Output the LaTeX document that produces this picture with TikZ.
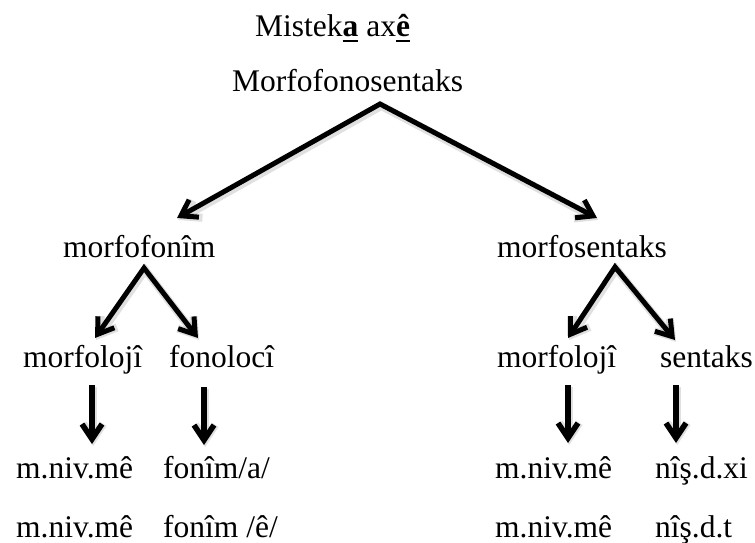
\documentclass[tikz,border=0pt]{standalone}
\usepackage{fontspec}
\setmainfont{Liberation Serif}
\usetikzlibrary{arrows.meta}
% bold letter with a heavy underline
\newcommand\ulbold[1]{\setbox0\hbox{\bfseries #1}\rlap{\rule[-5.5pt]{\wd0}{2.6pt}}\box0\relax}
\begin{document}
\begin{tikzpicture}[x=1pt,y=-1pt,
  lbl/.style={anchor=base west,inner sep=0pt,font=\fontsize{31.5}{36}\selectfont},
  tip/.tip={Straight Barb[length=15pt,width=20pt]},
  arr/.style={line width=5.5pt,line join=miter,-tip},
  fork/.style={line width=5pt,line join=miter,tip-tip},
  soft/.style={draw=black,opacity=0.12,line width=8pt,transform canvas={shift={(1.2pt,-2pt)}}}]
\useasboundingbox (0,0) rectangle (755,543);

% labels
\node[lbl] (title) at (255,37) {Mistek\ulbold{a} ax\ulbold{ê}};
\node[lbl] (root)  at (232,92) {Morfofonosentaks};
\node[lbl] (mfn)   at (63,257) {morfofonîm};
\node[lbl] (mfs)   at (497,257) {morfosentaks};
\node[lbl] (lmor)  at (23,367) {morfolojî};
\node[lbl] (lfon)  at (169,367) {fonolocî};
\node[lbl] (rmor)  at (497,367) {morfolojî};
\node[lbl] (rsen)  at (660,367) {sentaks};
\node[lbl] (la1)   at (16,478) {m.niv.mê};
\node[lbl] (lb1)   at (163,478) {fonîm/a/};
\node[lbl] (ra1)   at (495,478) {m.niv.mê};
\node[lbl] (rb1)   at (655,478) {nîş.d.xi};
\node[lbl] (la2)   at (16,537) {m.niv.mê};
\node[lbl] (lb2)   at (163,537) {fonîm /ê/};
\node[lbl] (ra2)   at (495,537) {m.niv.mê};
\node[lbl] (rb2)   at (655,537) {nîş.d.t};

% fork points and arrow ends
\coordinate (rootfork) at (380,104);
\coordinate (rootL) at (177,218);
\coordinate (rootR) at (597,218);
\coordinate (mfnfork) at (144,268);
\coordinate (mfnL) at (95,338);
\coordinate (mfnR) at (198,338);
\coordinate (mfsfork) at (615,267);
\coordinate (mfsL) at (568,338);
\coordinate (mfsR) at (675,340);

% vertical arrow ends
\coordinate (d1) at (92,385);   \coordinate (e1) at (92,444);
\coordinate (d2) at (204,387);  \coordinate (e2) at (204,445);
\coordinate (d3) at (568,385);  \coordinate (e3) at (568,443);
\coordinate (d4) at (676,385);  \coordinate (e4) at (676,443);

% faint drop shadows
\draw[fork,soft] (rootL) -- (rootfork) -- (rootR);
\draw[fork,soft] (mfnL) -- (mfnfork) -- (mfnR);
\draw[fork,soft] (mfsL) -- (mfsfork) -- (mfsR);
\foreach \a/\b in {d1/e1,d2/e2,d3/e3,d4/e4}
  \draw[arr,soft] (\a) -- (\b);

% arrows
\draw[fork] (rootL) -- (rootfork) -- (rootR);
\draw[fork] (mfnL) -- (mfnfork) -- (mfnR);
\draw[fork] (mfsL) -- (mfsfork) -- (mfsR);
\draw[arr] (d1) -- (e1);
\draw[arr] (d2) -- (e2);
\draw[arr] (d3) -- (e3);
\draw[arr] (d4) -- (e4);
\end{tikzpicture}
\end{document}
